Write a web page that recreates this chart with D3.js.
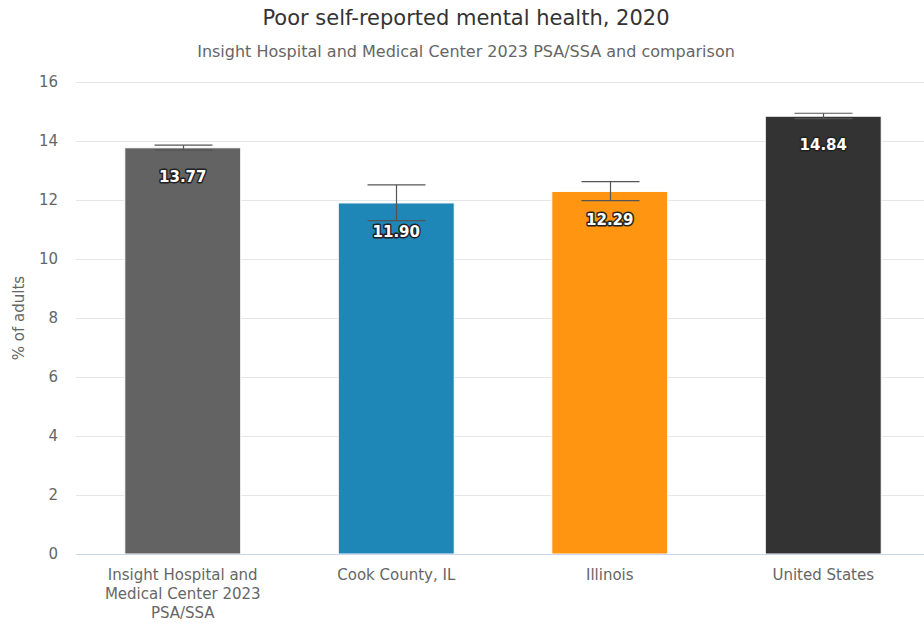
<!DOCTYPE html>
<html>
<head>
<meta charset="utf-8">
<script src="https://cdn.jsdelivr.net/npm/d3@7"></script>
<style>
  html, body { margin: 0; padding: 0; background: #ffffff; }
  svg { display: block; font-family: "DejaVu Sans", sans-serif; }
</style>
</head>
<body>
<svg id="chart" width="924" height="623"></svg>
<script>
// Poor self-reported mental health, 2020 — share of adults with confidence intervals
const categories = [
  ["Insight Hospital and", "Medical Center 2023", "PSA/SSA"],
  ["Cook County, IL"],
  ["Illinois"],
  ["United States"]
];
const values = [13.77, 11.90, 12.29, 14.84];
const lowerCI = [13.69, 11.30, 11.98, 14.76];
const upperCI = [13.86, 12.51, 12.62, 14.94];
const barColors = ["#636363", "#1f86b8", "#ff9511", "#333333"];
const yTicks = [0, 2, 4, 6, 8, 10, 12, 14, 16];

const svg = d3.select("#chart");
const margin = { left: 76, right: -6, top: 82, bottom: 69 };
const W = 924, H = 623;

const x = d3.scaleBand()
  .domain(d3.range(values.length))
  .range([margin.left, W - margin.right])
  .paddingInner(0.457)
  .paddingOuter(0.2285);

const y = d3.scaleLinear()
  .domain([0, 16])
  .range([H - margin.bottom, margin.top]);

// gridlines
svg.append("g")
  .selectAll("line")
  .data(yTicks.filter(d => d !== 0))
  .join("line")
  .attr("x1", margin.left)
  .attr("x2", W)
  .attr("y1", d => y(d) + 0.5)
  .attr("y2", d => y(d) + 0.5)
  .attr("stroke", "#e6e6e6")
  .attr("stroke-width", 1);

// y axis labels
const yAxis = d3.axisLeft(y).tickValues(yTicks).tickSize(0).tickPadding(0);
const yg = svg.append("g")
  .attr("transform", `translate(${margin.left - 18},0)`)
  .call(yAxis);
yg.select(".domain").remove();
yg.selectAll("text")
  .attr("fill", "#666666")
  .style("font-size", "15px")
  .style("font-family", "DejaVu Sans, sans-serif");

// y axis title
svg.append("text")
  .attr("transform", `translate(24,${(y(0) + y(16)) / 2}) rotate(-90)`)
  .attr("text-anchor", "middle")
  .attr("fill", "#666666")
  .style("font-size", "15px")
  .text("% of adults");

// bars
svg.append("g")
  .selectAll("rect")
  .data(values)
  .join("rect")
  .attr("x", (d, i) => x(i))
  .attr("width", x.bandwidth())
  .attr("y", d => y(d))
  .attr("height", d => y(0) - y(d))
  .attr("fill", (d, i) => barColors[i])
  .attr("stroke", "#ffffff")
  .attr("stroke-width", 1);

// baseline
svg.append("line")
  .attr("x1", margin.left)
  .attr("x2", W)
  .attr("y1", y(0) + 0.5)
  .attr("y2", y(0) + 0.5)
  .attr("stroke", "#ccd6eb")
  .attr("stroke-width", 1);

// error bars
const eg = svg.append("g")
  .attr("stroke", "#555555")
  .attr("stroke-width", 1.2)
  .attr("fill", "none");
values.forEach((v, i) => {
  const cx = Math.round(x(i) + x.bandwidth() / 2) + 0.5;
  const half = x.bandwidth() / 4;
  eg.append("line").attr("x1", cx).attr("x2", cx)
    .attr("y1", y(upperCI[i])).attr("y2", y(lowerCI[i]));
  eg.append("line").attr("x1", cx - half).attr("x2", cx + half)
    .attr("y1", y(upperCI[i])).attr("y2", y(upperCI[i]));
  eg.append("line").attr("x1", cx - half).attr("x2", cx + half)
    .attr("y1", y(lowerCI[i])).attr("y2", y(lowerCI[i]));
});

// data labels
svg.append("g")
  .selectAll("text")
  .data(values)
  .join("text")
  .attr("x", (d, i) => x(i) + x.bandwidth() / 2)
  .attr("y", d => y(d) + 34)
  .attr("text-anchor", "middle")
  .attr("fill", "#ffffff")
  .attr("stroke", "#222222")
  .attr("stroke-width", 3)
  .attr("stroke-linejoin", "round")
  .attr("paint-order", "stroke")
  .style("font-size", "15px")
  .style("font-weight", "bold")
  .text(d => d.toFixed(2));

// category labels
const xg = svg.append("g");
categories.forEach((lines, i) => {
  const t = xg.append("text")
    .attr("x", x(i) + x.bandwidth() / 2)
    .attr("y", 580)
    .attr("text-anchor", "middle")
    .attr("fill", "#666666")
    .style("font-size", "15px");
  lines.forEach((ln, j) => {
    t.append("tspan")
      .attr("x", x(i) + x.bandwidth() / 2)
      .attr("y", 580 + j * 19)
      .text(ln);
  });
});

// titles
svg.append("text")
  .attr("x", 466)
  .attr("y", 25)
  .attr("text-anchor", "middle")
  .attr("fill", "#333333")
  .style("font-size", "21px")
  .text("Poor self-reported mental health, 2020");

svg.append("text")
  .attr("x", 466)
  .attr("y", 57)
  .attr("text-anchor", "middle")
  .attr("fill", "#666666")
  .style("font-size", "16px")
  .text("Insight Hospital and Medical Center 2023 PSA/SSA and comparison");
</script>
</body>
</html>
